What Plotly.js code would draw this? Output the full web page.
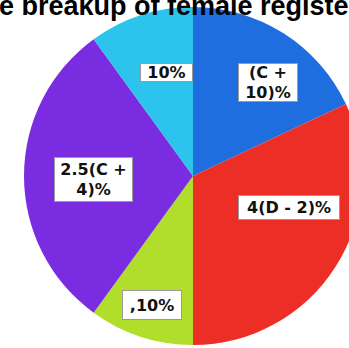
<!DOCTYPE html>
<html><head><meta charset="utf-8">
<script src="https://cdn.plot.ly/plotly-3.0.1.min.js"></script>
<style>html,body{margin:0;padding:0;overflow:hidden;background:#fff}#chart{width:375px;height:348px}</style>
</head><body><div id="chart"></div>
<script>
// Data
const sliceNames  = ["Blue", "Red", "Green", "Purple", "Light blue"];
const sliceValues = [18, 32, 10, 30, 10];
const sliceLabels = ["(C +<br>10)%", "4(D - 2)%", ",10%", "2.5(C +<br>4)%", "10%"];
const sliceColors = ["#1F6EE0", "#EC2E26", "#B0DE2A", "#7A2CE0", "#2CC3EC"];
const titleText   = "e breakup of female registe";

// Layout of label boxes (pixel centres and box sizes)
const W = 375, H = 348;
const labelCentres = [[268, 82.5], [289, 207.5], [152, 305], [93.5, 179.5], [166.5, 72.5]];
const labelSizes   = [[56, 35], [98, 21], [56, 26], [75, 41], [49, 15]];

const cx = 193, cy = 176, R = 169;

const trace = {
  type: "pie",
  labels: sliceNames,
  values: sliceValues,
  sort: false,
  direction: "clockwise",
  rotation: 0,
  textinfo: "none",
  hoverinfo: "none",
  marker: { colors: sliceColors, line: { width: 0 } },
  domain: { x: [(cx - R) / W, (cx + R) / W], y: [1 - (cy + R) / H, 1 - (cy - R) / H] },
  showlegend: false
};

const annotations = sliceLabels.map((t, i) => ({
  text: t,
  x: labelCentres[i][0] / W,
  y: 1 - labelCentres[i][1] / H,
  xref: "paper", yref: "paper",
  xanchor: "center", yanchor: "middle",
  showarrow: false,
  bgcolor: "#ffffff",
  bordercolor: "#9a9a9a",
  borderwidth: 1,
  borderpad: 1,
  width: labelSizes[i][0],
  height: labelSizes[i][1],
  align: "center",
  font: { family: "DejaVu Sans", size: 16, color: "#111", weight: "bold" }
}));

annotations.push({
  text: "<b>" + titleText + "</b>",
  x: 174 / W, y: 1,
  xref: "paper", yref: "paper",
  xanchor: "center", yanchor: "middle",
  yshift: -6,
  showarrow: false,
  font: { family: "Liberation Sans", size: 27, color: "#000" }
});

const layout = {
  width: W, height: H,
  margin: { l: 0, r: 0, t: 0, b: 0 },
  paper_bgcolor: "#ffffff",
  annotations: annotations
};

Plotly.newPlot("chart", [trace], layout, { staticPlot: true, displayModeBar: false });
</script>
</body></html>
